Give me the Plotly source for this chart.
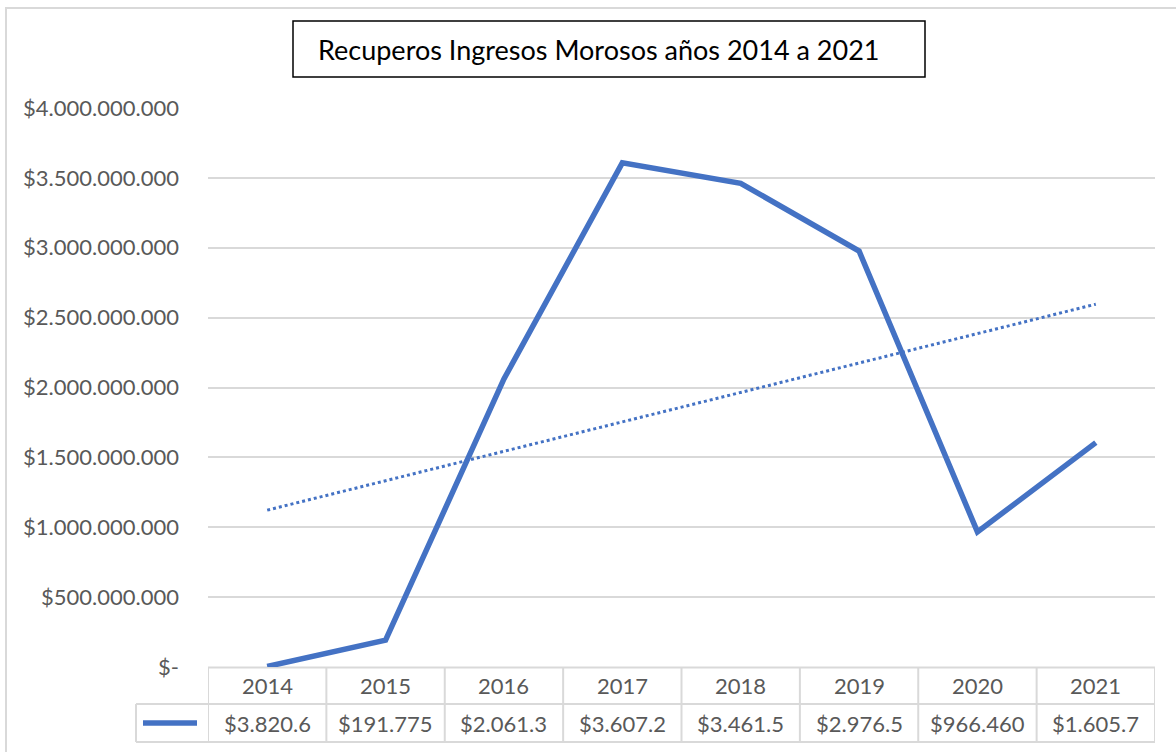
import numpy as np
import plotly.graph_objects as go

# ---- data ----
years = ["2014", "2015", "2016", "2017", "2018", "2019", "2020", "2021"]
recuperos = [3820600, 191775000, 2061300000, 3607200000, 3461500000,
             2976500000, 966460000, 1605700000]
y_ticks = [0, 500000000, 1000000000, 1500000000, 2000000000,
           2500000000, 3000000000, 3500000000, 4000000000]
title_text = "Recuperos Ingresos Morosos años 2014 a 2021"


def peso(v):
    if v == 0:
        return "$-"
    return "$" + f"{int(v):,}".replace(",", ".")


# table shows clipped cell text (8 characters)
table_labels = [peso(v)[:8] for v in recuperos]

# linear trend (Excel linear trendline)
xi = np.arange(1, len(recuperos) + 1)
slope, intercept = np.polyfit(xi, np.array(recuperos, dtype=float), 1)
trend = slope * xi + intercept

BLUE = "#4472C4"
GRID = "#d9d9d9"
TXT = "#595959"
FONT = "Lato, 'Open Sans', sans-serif"

W, H = 1176, 752
L, R, T, B = 208, 1155, 108, 667


def px2x(p):
    return (p - L) / (R - L)


def px2y(p):
    return (B - p) / (B - T)


fig = go.Figure()
fig.add_trace(go.Scatter(x=years, y=list(trend), mode="lines",
                         line=dict(color=BLUE, width=3, dash="dot"),
                         hoverinfo="skip", showlegend=False, cliponaxis=False))
fig.add_trace(go.Scatter(x=years, y=recuperos, mode="lines",
                         line=dict(color=BLUE, width=5.5),
                         showlegend=False, cliponaxis=False))

shapes = []
# outer chart border
shapes.append(dict(type="rect", xref="paper", yref="paper",
                   x0=px2x(6), x1=px2x(1185), y0=px2y(8), y1=px2y(765),
                   line=dict(color=GRID, width=2), layer="below"))
# title box
shapes.append(dict(type="rect", xref="paper", yref="paper",
                   x0=px2x(293), x1=px2x(925), y0=px2y(21), y1=px2y(77),
                   line=dict(color="black", width=1.5)))
# data table grid
shapes.append(dict(type="line", xref="paper", yref="paper",
                   x0=0, x1=1, y0=px2y(667.5), y1=px2y(667.5),
                   line=dict(color=GRID, width=2), layer="below"))
for yy in (704, 742):
    shapes.append(dict(type="line", xref="paper", yref="paper",
                       x0=px2x(136), x1=1, y0=px2y(yy), y1=px2y(yy),
                       line=dict(color=GRID, width=2)))
shapes.append(dict(type="line", xref="paper", yref="paper",
                   x0=px2x(136), x1=px2x(136), y0=px2y(704), y1=px2y(742),
                   line=dict(color=GRID, width=2)))
for i in range(len(years) + 1):
    shapes.append(dict(type="line", xref="x", yref="paper",
                       x0=i - 0.5, x1=i - 0.5, y0=px2y(667.5), y1=px2y(742),
                       line=dict(color=GRID, width=2)))
# legend key in table
shapes.append(dict(type="line", xref="paper", yref="paper",
                   x0=px2x(143), x1=px2x(197), y0=px2y(723), y1=px2y(723),
                   line=dict(color=BLUE, width=5.5)))

annotations = [dict(text=title_text, xref="paper", yref="paper",
                    x=px2x(598), y=px2y(50), showarrow=False,
                    font=dict(family=FONT, size=27, color="black"),
                    xanchor="center", yanchor="middle")]
for i, (yr, lab) in enumerate(zip(years, table_labels)):
    annotations.append(dict(text=yr, xref="x", yref="paper", x=i, y=px2y(686),
                            showarrow=False, xanchor="center", yanchor="middle",
                            font=dict(family=FONT, size=22, color=TXT)))
    annotations.append(dict(text=lab, xref="x", yref="paper", x=i, y=px2y(723),
                            showarrow=False, xanchor="center", yanchor="middle",
                            font=dict(family=FONT, size=22, color=TXT)))

fig.update_layout(
    width=W, height=H,
    margin=dict(l=L, r=W - R, t=T, b=H - B, autoexpand=False),
    paper_bgcolor="white", plot_bgcolor="white",
    font=dict(family=FONT, color=TXT),
    shapes=shapes, annotations=annotations,
    xaxis=dict(type="category", range=[-0.5, len(years) - 0.5],
               showticklabels=False, showgrid=False, zeroline=False,
               showline=False, fixedrange=True),
    yaxis=dict(range=[0, 4000000000], tickvals=y_ticks,
               ticktext=[peso(v) for v in y_ticks],
               showgrid=True, gridcolor=GRID, gridwidth=2,
               zeroline=False, showline=False, ticks="",
               ticklabelstandoff=28,
               tickfont=dict(family=FONT, size=22, color=TXT)),
)

fig.write_html("out.html", config={"displayModeBar": False},
               post_script="document.body.style.margin='0';"
                           "document.body.style.overflow='hidden';")
